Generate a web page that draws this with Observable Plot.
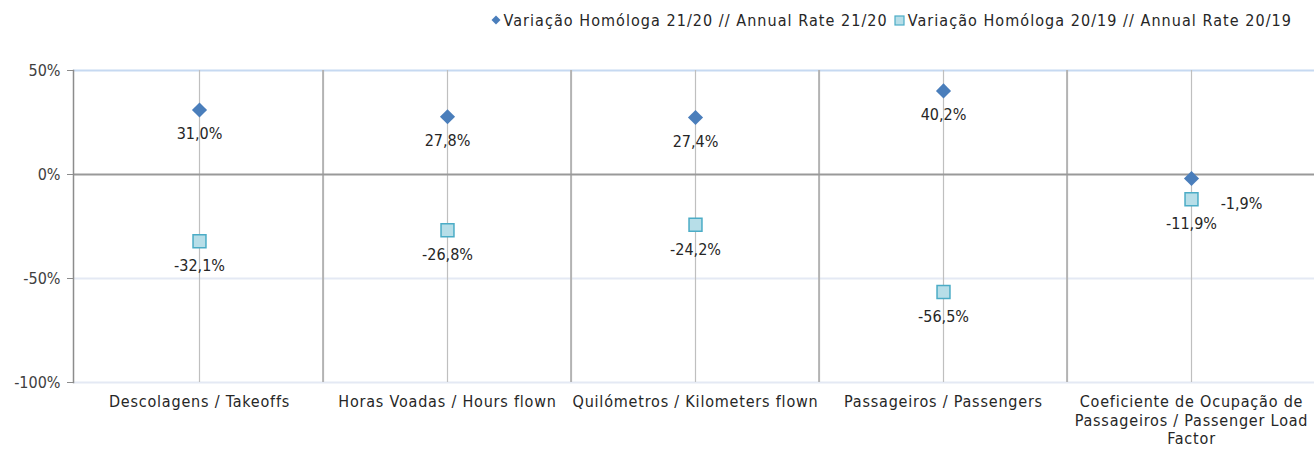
<!DOCTYPE html>
<html>
<head>
<meta charset="utf-8">
<script src="https://cdn.jsdelivr.net/npm/d3@7"></script>
<script src="https://cdn.jsdelivr.net/npm/@observablehq/plot@0.6"></script>
<style>
  html, body { margin: 0; padding: 0; background: #fff; overflow: hidden; }
  #legend {
    height: 40px; display: flex; justify-content: flex-end; align-items: center;
    padding-right: 22px; box-sizing: border-box;
    font-family: "DejaVu Sans Condensed", "DejaVu Sans", sans-serif; font-size: 16px;
    letter-spacing: 1.05px; color: #262626;
  }
  .item { display: flex; align-items: center; margin-left: 6px; }
  .sym { margin-right: 3px; }
  g[aria-label="x-axis tick label"] text { letter-spacing: 0.8px; }
</style>
</head>
<body>
<div id="legend"></div>
<div id="chart"></div>
<script>
const categories = [
  "Descolagens / Takeoffs",
  "Horas Voadas / Hours flown",
  "Quilómetros / Kilometers flown",
  "Passageiros / Passengers",
  "Coeficiente de Ocupação de Passageiros / Passenger Load Factor"
];
const xTickLabels = [
  "Descolagens / Takeoffs",
  "Horas Voadas / Hours flown",
  "Quilómetros / Kilometers flown",
  "Passageiros / Passengers",
  "Coeficiente de Ocupação de\nPassageiros / Passenger Load\nFactor"
];
const rate2120 = [31.0, 27.8, 27.4, 40.2, -1.9];
const rate2019 = [-32.1, -26.8, -24.2, -56.5, -11.9];
const yTicks = [-100, -50, 0, 50];
const seriesNames = [
  "Variação Homóloga 21/20 // Annual Rate 21/20",
  "Variação Homóloga 20/19 // Annual Rate 20/19"
];

const fmt = v => v.toFixed(1).replace(".", ",") + "%";
const d2120 = categories.map((c, i) => ({cat: c, v: rate2120[i], i}));
const d2019 = categories.map((c, i) => ({cat: c, v: rate2019[i], i}));
const last = categories.length - 1;

const xRange = [73, 1317];
const bw = (xRange[1] - xRange[0]) / categories.length;
const font = '"DejaVu Sans Condensed", "DejaVu Sans", sans-serif';

// Legend
const legend = document.getElementById("legend");
legend.innerHTML = `
  <span class="item"><svg class="sym" width="10" height="10"><path d="M5,0.5L9.5,5L5,9.5L0.5,5Z" fill="#4A7EBB"/></svg>${seriesNames[0]}</span>
  <span class="item"><svg class="sym" width="11" height="11"><rect x="1" y="1" width="9" height="9" fill="#B7DEE8" stroke="#4BACC6" stroke-width="1.2"/></svg>${seriesNames[1]}</span>`;

const chart = Plot.plot({
  width: 1314,
  height: 409,
  marginTop: 30,
  marginBottom: 67,
  marginLeft: 73,
  marginRight: 0,
  style: {fontFamily: font, fontSize: "16px", color: "#404040", background: "#fff"},
  x: {type: "band", domain: categories, range: xRange, padding: 0, label: null},
  y: {domain: [-100, 50], label: null},
  marks: [
    Plot.ruleY([50], {stroke: "#C6D9F1", strokeWidth: 2}),
    Plot.ruleY([-50, -100], {stroke: "#E4E9F4", strokeWidth: 2}),
    Plot.ruleX(categories, {x: d => d, y1: -100, y2: 50, stroke: "#BFBFBF", strokeWidth: 1.2}),
    Plot.ruleX(categories.slice(1), {x: d => d, dx: -bw / 2, y1: -100, y2: 50, stroke: "#B3B3B3", strokeWidth: 2}),
    Plot.ruleY([0], {stroke: "#999999", strokeWidth: 2}),
    Plot.frame({anchor: "left", stroke: "#8C8C8C", strokeWidth: 1.5}),
    Plot.axisY({ticks: yTicks, tickFormat: d => d + "%", tickSize: 6, tickPadding: 7, stroke: "#8C8C8C", fill: "#404040", fontSize: 16, label: null}),
    Plot.axisX({tickSize: 0, tickPadding: 11, tickFormat: d => xTickLabels[categories.indexOf(d)], lineHeight: 1.17, fill: "#262626", fontSize: 16, label: null}),
    Plot.dot(d2019, {x: "cat", y: "v", symbol: "square", r: 7.3, fill: "#B7DEE8", stroke: "#4BACC6", strokeWidth: 1.5}),
    Plot.dot(d2120, {x: "cat", y: "v", symbol: "diamond2", r: 6.8, fill: "#4A7EBB", stroke: "none"}),
    Plot.text(d2120.filter(d => d.i !== last), {x: "cat", y: "v", text: d => fmt(d.v), dy: 24, fill: "#262626", fontSize: 16}),
    Plot.text(d2120.filter(d => d.i === last), {x: "cat", y: "v", text: d => fmt(d.v), dx: 50, dy: 25, fill: "#262626", fontSize: 16}),
    Plot.text(d2019, {x: "cat", y: "v", text: d => fmt(d.v), dy: 25, fill: "#262626", fontSize: 16})
  ]
});
document.getElementById("chart").appendChild(chart);
</script>
</body>
</html>
